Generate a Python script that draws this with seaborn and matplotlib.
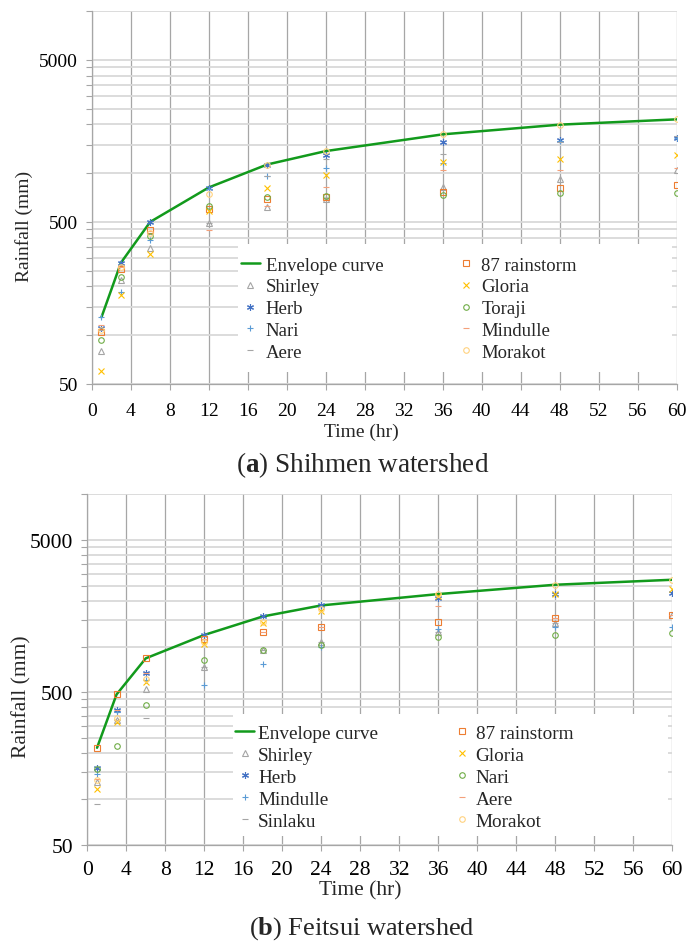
import numpy as np
import pandas as pd
import matplotlib
matplotlib.use('Agg')
import matplotlib.pyplot as plt
import seaborn as sns
from matplotlib.ticker import FixedLocator, NullFormatter, FixedFormatter
from matplotlib.patches import Rectangle

sns.set_style('white')
plt.rcParams['font.family'] = ['Liberation Serif', 'DejaVu Serif']
plt.rcParams['mathtext.fontset'] = 'custom'
plt.rcParams['mathtext.rm'] = 'Liberation Serif'
plt.rcParams['mathtext.bf'] = 'Liberation Serif:bold'

# ---------------- data ----------------
time_hr = [1, 3, 6, 12, 18, 24, 36, 48, 60]
x_ticks = list(range(0, 61, 4))
y_major = [50, 500, 5000]
y_tick_labels = ['50', '500', '5000']
y_minor = [100, 150, 200, 250, 300, 350, 400, 450,
           1000, 1500, 2000, 2500, 3000, 3500, 4000, 4500, 10000]

# (a) Shihmen watershed
shihmen_envelope = [129, 280, 500, 815, 1130, 1367, 1734, 1990, 2146]
shihmen_names = ['Shirley', 'Herb', 'Nari', 'Aere', '87 rainstorm',
                 'Gloria', 'Toraji', 'Mindulle', 'Morakot']
shihmen_shirley = [80, 218, 347, 493, 620, 690, 823, 925, 1050]
shihmen_herb = [111, 277, 500, 815, 1125, 1300, 1560, 1600, 1650]
shihmen_nari = [129, 184, 385, 800, 960, 1068, 1150, 1580, 1640]
shihmen_aere = [108, 270, 420, 493, 960, 1230, 1320, 1560, 1700]
shihmen_87 = [104, 257, 444, 598, 690, 710, 770, 812, 850]
shihmen_gloria = [60, 176, 318, 582, 810, 971, 1170, 1230, 1300]
shihmen_toraji = [94, 230, 410, 628, 715, 724, 730, 750, 755]
shihmen_mindulle = [116, 265, 440, 448, 630, 823, 1040, 1050, 1080]
shihmen_morakot = [108, 262, 430, 745, 1125, 1367, 1734, 1990, 2146]

# (b) Feitsui watershed
feitsui_envelope = [217, 485, 837, 1191, 1574, 1860, 2207, 2541, 2740]
feitsui_names = ['Shirley', 'Herb', 'Mindulle', 'Sinlaku', '87 rainstorm',
                 'Gloria', 'Nari', 'Aere', 'Morakot']
feitsui_shirley = [129, 330, 526, 738, 950, 1067, 1241, 1420, 1600]
feitsui_herb = [160, 382, 667, 1191, 1574, 1860, 2077, 2207, 2240]
feitsui_mindulle = [147, 370, 600, 558, 764, 1000, 1304, 1333, 1352]
feitsui_sinlaku = [93, 330, 341, 738, 950, 1067, 1241, 1420, 1600]
feitsui_87 = [217, 485, 837, 1116, 1254, 1350, 1444, 1534, 1613]
feitsui_gloria = [117, 321, 588, 1035, 1420, 1710, 2150, 2207, 2390]
feitsui_nari = [158, 223, 412, 815, 945, 1024, 1150, 1191, 1221]
feitsui_aere = [136, 382, 667, 1116, 1254, 1350, 1832, 1534, 1613]
feitsui_morakot = [133, 341, 610, 1067, 1450, 1770, 2207, 2541, 2740]

ENV_COLOR = '#129A1C'
STYLES = [
    dict(m='^', c='#A5A5A5', open=True, ms=4.2),
    dict(m=(6, 2, 0), c='#4472C4', open=False, ms=5.0),
    dict(m='+', c='#5B9BD5', open=False, ms=5.0),
    dict(m='_', c='#A5A5A5', open=False, ms=4.5),
    dict(m='s', c='#ED7D31', open=True, ms=4.0),
    dict(m='x', c='#FFC000', open=False, ms=4.5),
    dict(m='o', c='#70AD47', open=True, ms=4.0),
    dict(m='_', c='#F4A07A', open=False, ms=4.0),
    dict(m='o', c='#FFD27F', open=True, ms=4.0),
]

fig = plt.figure(figsize=(6.86, 9.45), dpi=100)
W, H = 686.0, 945.0


def draw_panel(ax, names, envelope, series, fs_tick, fs_leg, leg_anchor,
               rect, hpad, cspace, lspace, xpad):
    ax.set_yscale('log')
    ax.set_axisbelow(True)
    sns.lineplot(x=time_hr, y=envelope, ax=ax, color=ENV_COLOR, lw=1.8,
                 label='Envelope curve', zorder=3)
    for name, vals, st in zip(names, series, STYLES):
        kw = dict(marker=st['m'], markersize=st['ms'], markeredgewidth=0.8,
                  markeredgecolor=st['c'], color=st['c'])
        if st['open']:
            kw['markerfacecolor'] = 'none'
        sns.lineplot(x=time_hr, y=vals, ax=ax, linestyle='none', label=name,
                     zorder=4, **kw)
    ax.set_xlim(0, 60)
    ax.set_ylim(50, 10000)
    ax.xaxis.set_major_locator(FixedLocator(x_ticks))
    ax.yaxis.set_major_locator(FixedLocator(y_major))
    ax.yaxis.set_major_formatter(FixedFormatter(y_tick_labels))
    ax.yaxis.set_minor_locator(FixedLocator(y_minor))
    ax.yaxis.set_minor_formatter(NullFormatter())
    ax.grid(which='major', axis='x', color='#A6A6A6', lw=0.9)
    ax.grid(which='both', axis='y', color='#D9D9D9', lw=1.3)
    for s in ['top', 'right']:
        ax.spines[s].set_visible(False)
    for s in ['left', 'bottom']:
        ax.spines[s].set_color('#A6A6A6')
        ax.spines[s].set_linewidth(0.9)
    ax.tick_params(axis='both', which='both', direction='out', length=4,
                   width=0.8, color='#A6A6A6', labelsize=fs_tick,
                   labelcolor='black')
    ax.tick_params(axis='y', which='both', pad=6, left=True)
    ax.tick_params(axis='x', pad=xpad, bottom=True)
    ax.set_xlabel('')
    ax.set_ylabel('')
    ax.add_patch(Rectangle((rect[0], rect[1]), rect[2] - rect[0],
                           rect[3] - rect[1], transform=ax.transAxes,
                           facecolor='white', edgecolor='none', zorder=2.6))
    h, l = ax.get_legend_handles_labels()
    ax.legend(h, l, ncol=2, loc='upper left', bbox_to_anchor=leg_anchor,
              frameon=False, borderpad=0, borderaxespad=0, handlelength=1.0,
              handletextpad=hpad, columnspacing=cspace, labelspacing=lspace,
              prop={'size': fs_leg, 'family': ['Liberation Serif']})


ax_a = fig.add_axes([91.7 / W, 1 - 385 / H, 585 / W, 373 / H])
draw_panel(ax_a, shihmen_names, shihmen_envelope,
           [shihmen_shirley, shihmen_herb, shihmen_nari, shihmen_aere,
            shihmen_87, shihmen_gloria, shihmen_toraji, shihmen_mindulle,
            shihmen_morakot],
           14, 13.5, (0.2552, 0.342), (0.25, 0.032, 0.992, 0.375),
           0.32, 3.9, 0.25, 9)

ax_b = fig.add_axes([87.3 / W, 1 - 846 / H, 584.7 / W, 351 / H])
draw_panel(ax_b, feitsui_names, feitsui_envelope,
           [feitsui_shirley, feitsui_herb, feitsui_mindulle, feitsui_sinlaku,
            feitsui_87, feitsui_gloria, feitsui_nari, feitsui_aere,
            feitsui_morakot],
           15.5, 13.9, (0.2526, 0.344), (0.249, 0.0256, 0.9925, 0.373),
           0.2, 3.85, 0.23, 7)

fig.text(24 / W, 1 - 226 / H, 'Rainfall (mm)', rotation=90, ha='center',
         va='center', fontsize=14)
fig.text(361 / W, 1 - 432 / H, 'Time (hr)', ha='center', va='center',
         fontsize=14)
fig.text(363 / W, 1 - 465 / H, r'($\mathbf{a}$) Shihmen watershed',
         ha='center', va='center', fontsize=19.5)

fig.text(22 / W, 1 - 697 / H, 'Rainfall (mm)', rotation=90, ha='center',
         va='center', fontsize=15.5)
fig.text(360 / W, 1 - 891 / H, 'Time (hr)', ha='center', va='center',
         fontsize=15.5)
fig.text(362 / W, 1 - 929 / H, r'($\mathbf{b}$) Feitsui watershed',
         ha='center', va='center', fontsize=19)

fig.savefig('out.png', dpi=100)
